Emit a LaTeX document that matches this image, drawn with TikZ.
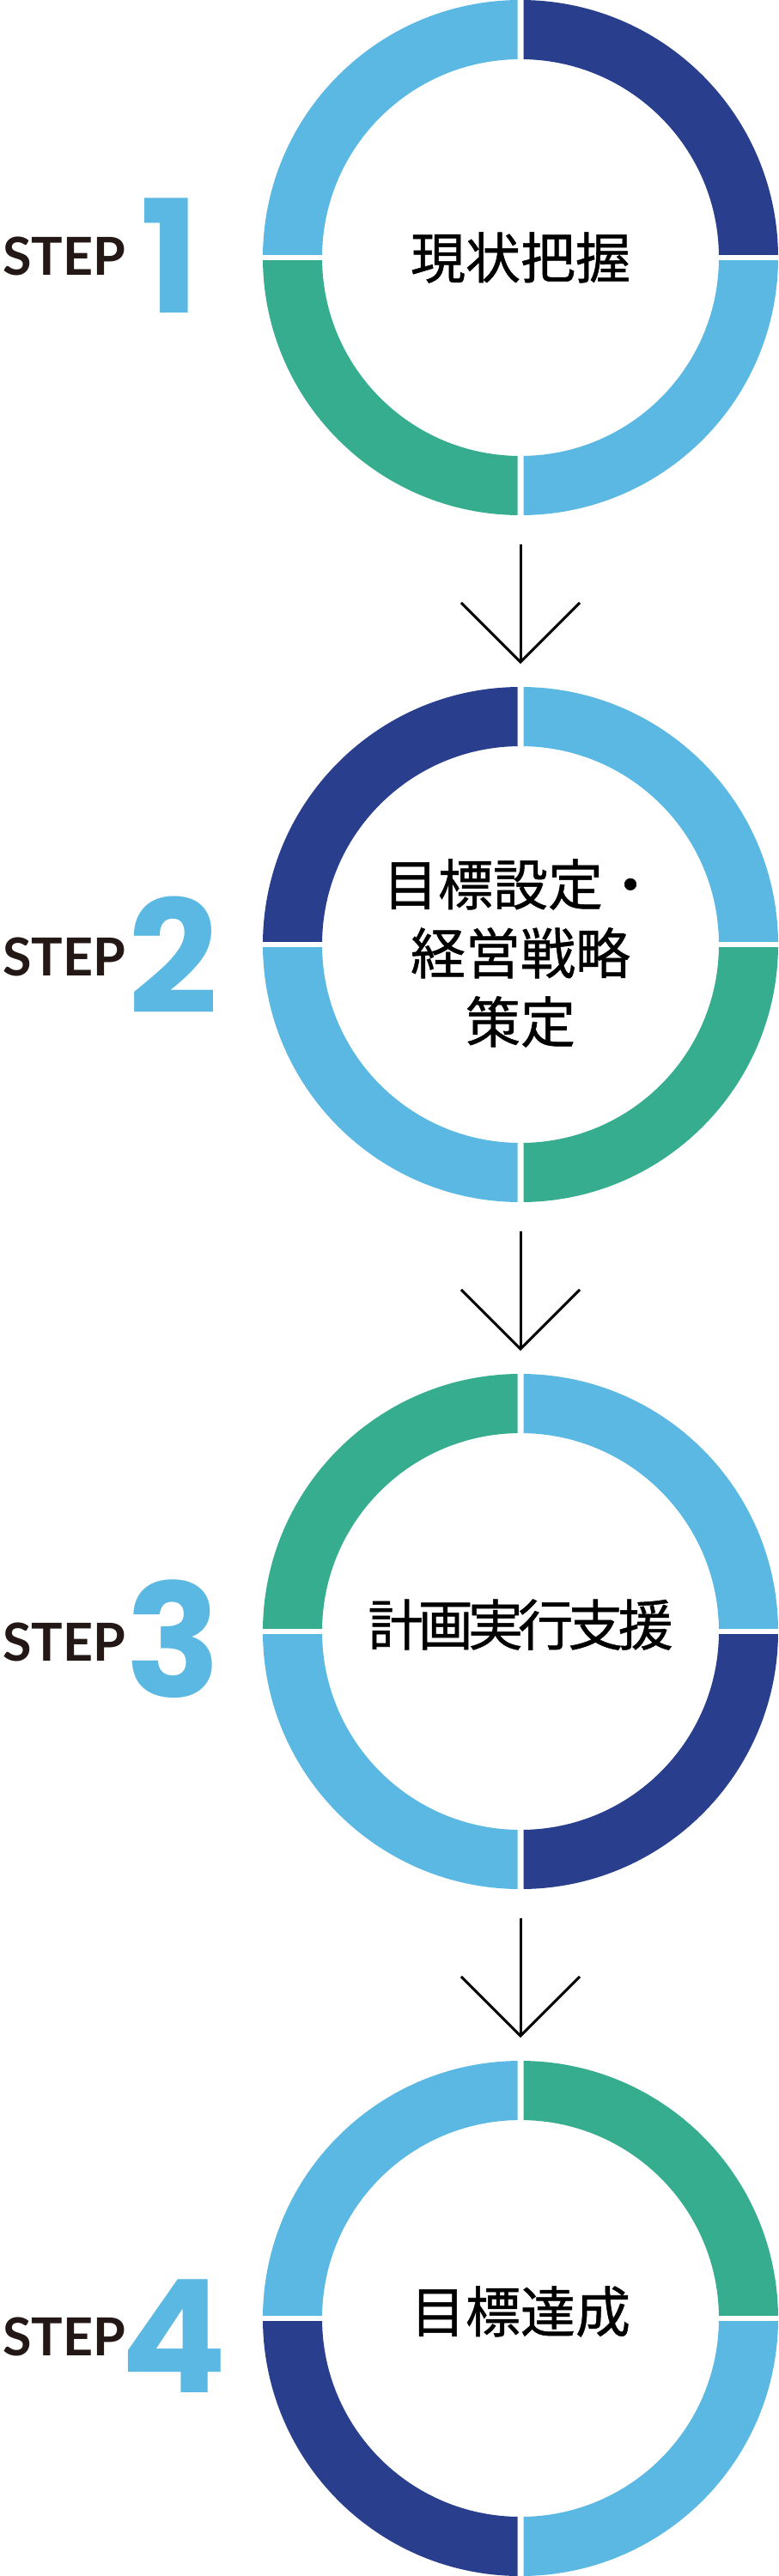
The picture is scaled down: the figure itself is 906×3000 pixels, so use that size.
\documentclass[tikz,border=0pt]{standalone}
\usepackage{fontspec}
\setmainfont{Lato}
\newfontfamily\jpfont{Noto Sans CJK JP}[FakeBold=0.8]
\newfontfamily\numfont{Poppins}
\usetikzlibrary{arrows.meta,positioning}
\definecolor{stlight}{RGB}{91,184,226}
\definecolor{stnavy}{RGB}{41,62,140}
\definecolor{stgreen}{RGB}{54,173,143}
\definecolor{stink}{RGB}{35,24,21}

\begin{document}
\begin{tikzpicture}[x=1pt,y=-1pt,
  ringnode/.style={circle,minimum size=600pt,inner sep=0pt,align=center,
    font=\jpfont\fontsize{64}{80}\selectfont,text=black},
  steplabel/.style={anchor=base west,inner sep=0pt,text=stink,
    font=\bfseries\fontsize{61}{61}\selectfont},
  stepnum/.style={anchor=base,inner sep=0pt,text=stlight,
    font=\numfont\bfseries\fontsize{183}{183}\selectfont},
  flowarrow/.style={line width=3pt,-{Straight Barb[length=69pt,width=138pt]},
    shorten <=34pt,shorten >=27pt}
]
  \useasboundingbox (0,0) rectangle (906,3000);
  % Ring segments (tl/tr/br/bl)
  \foreach \cy/\ctl/\ctr/\cbr/\cbl in {300/stlight/stnavy/stlight/stgreen,
      1100/stnavy/stlight/stgreen/stlight,1900/stgreen/stlight/stnavy/stlight,
      2700/stlight/stgreen/stlight/stnavy}{
    \foreach \sx/\sy/\col in {-1/-1/\ctl,1/-1/\ctr,1/1/\cbr,-1/1/\cbl}{
      \begin{scope}
        \clip (606+\sx*3.5,\cy+\sy*3.5) rectangle (606+\sx*310,\cy+\sy*310);
        \fill[\col,even odd rule] (606,\cy) circle[radius=300pt] circle[radius=231pt];
      \end{scope}
    }
  }
  % Ring texts
  \node[ringnode] (ring1) at (606,300) {現状把握};
  \node[ringnode] (ring2) at (606,1110) {目標設定・\\経営戦略\\策定};
  \node[ringnode] (ring3) at (606,1892) {\addfontfeatures{LetterSpace=-9}計画実行支援};
  \node[ringnode] (ring4) at (606,2692) {目標達成};
  % Step labels
  \node[steplabel] (step1) at (3,320) {STEP};
  \node[steplabel] (step2) at (3,1136) {STEP};
  \node[steplabel] (step3) at (3,1934) {STEP};
  \node[steplabel] (step4) at (3,2743) {STEP};
  \node[stepnum] (num1) at (198,364) {1};
  \node[stepnum] (num2) at (202,1180) {2};
  \node[stepnum] (num3) at (202,1976) {3};
  \node[stepnum] (num4) at (202,2786) {4};
  % Arrows
  \draw[flowarrow] (606,600) -- (606,800);
  \draw[flowarrow] (606,1400) -- (606,1600);
  \draw[flowarrow] (606,2200) -- (606,2400);
\end{tikzpicture}
\end{document}
